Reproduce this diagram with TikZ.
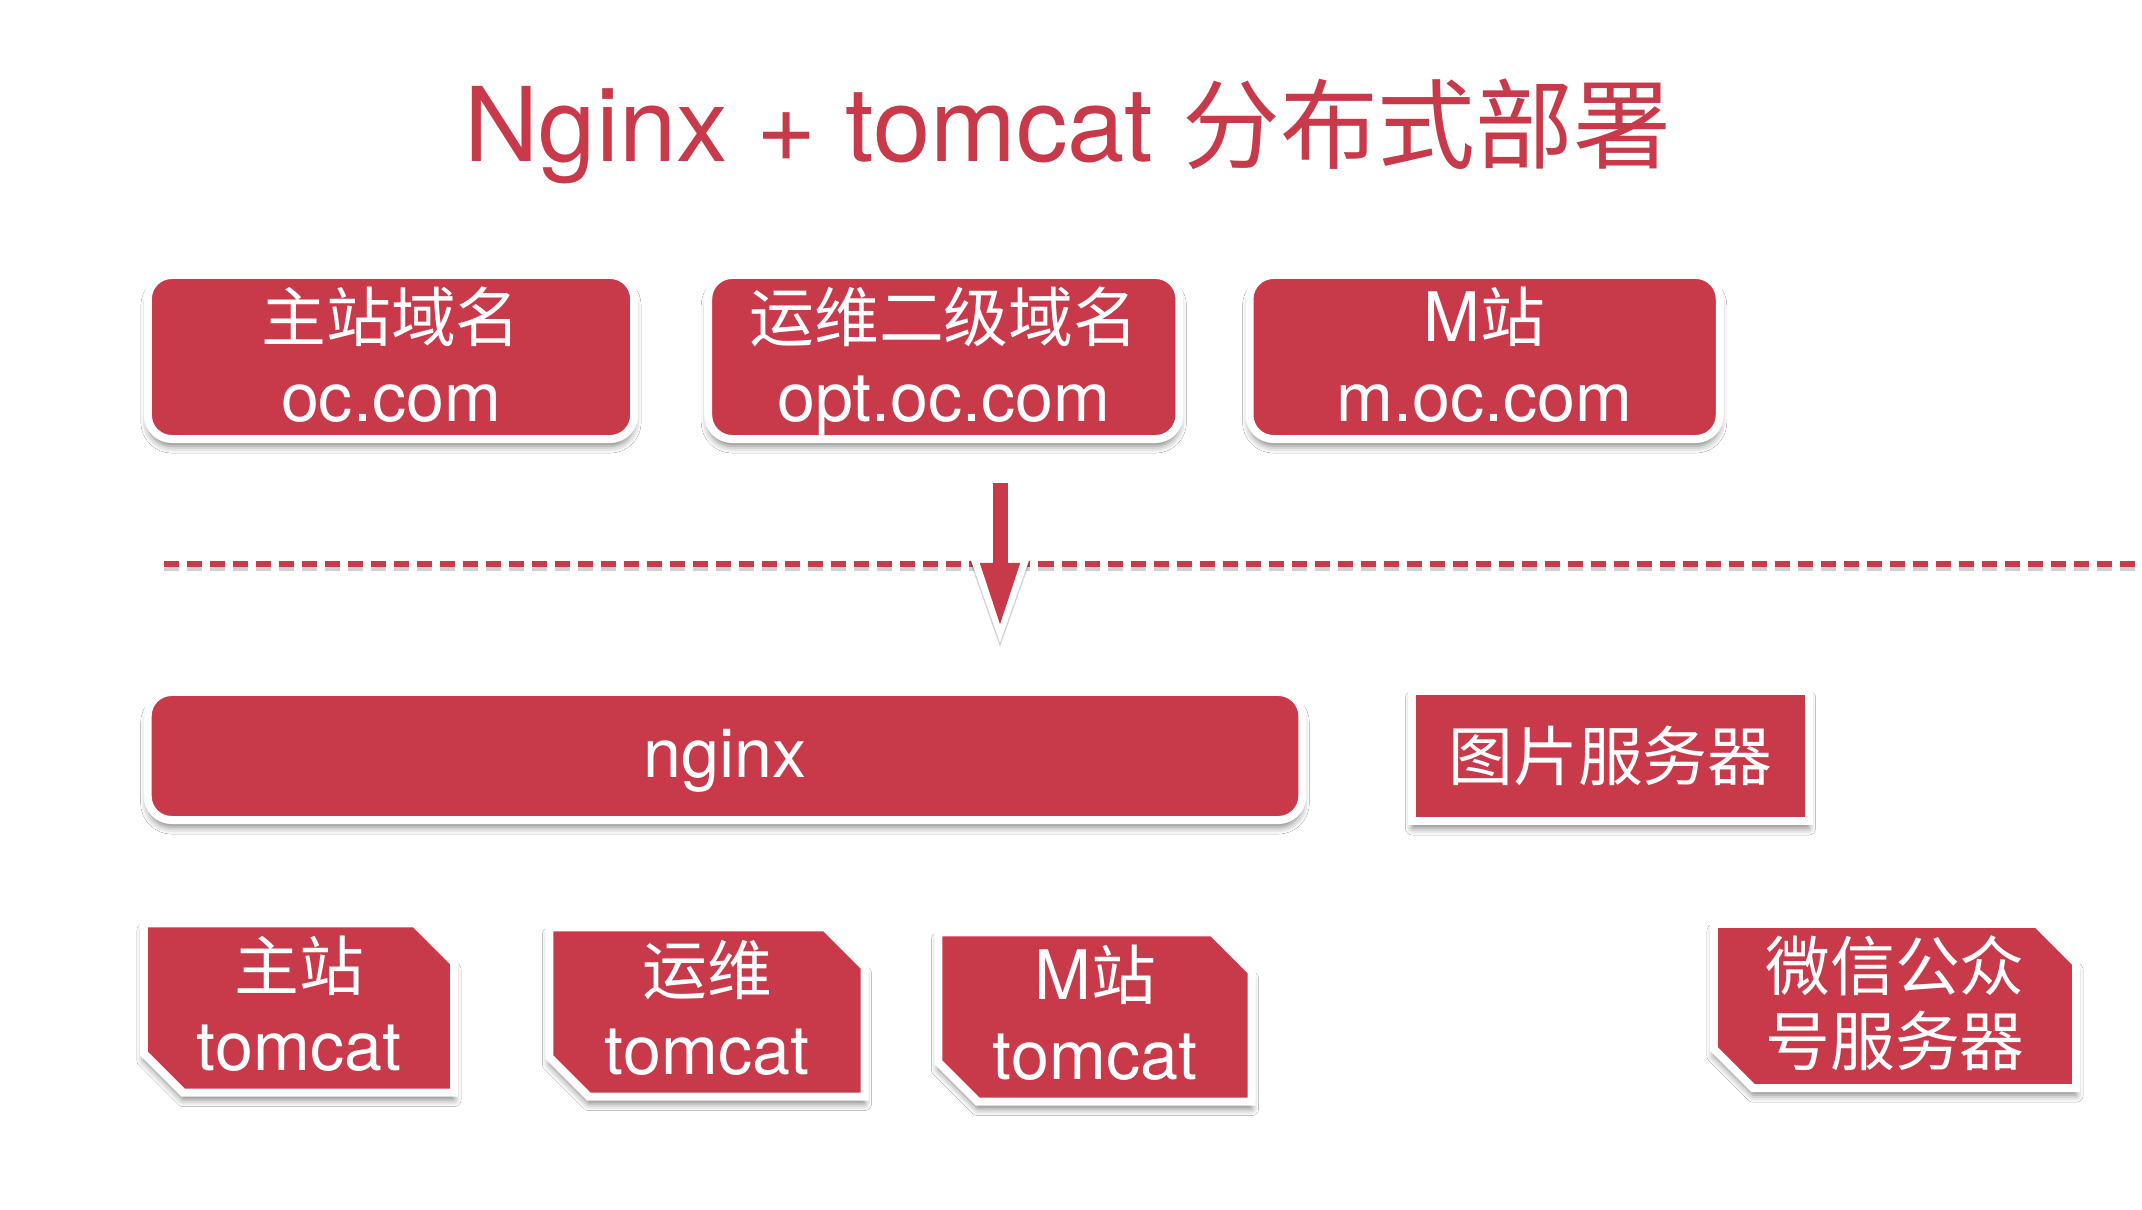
\documentclass[tikz,border=0pt]{standalone}
\usepackage{fontspec}
\setmainfont{TeX Gyre Heros}
\newfontfamily\cjk[Scale=0.95]{Noto Sans CJK SC}
\usepackage{xcolor}
\usepackage{tikz}
\usetikzlibrary{arrows.meta,positioning,shapes.misc,shadows.blur}
\definecolor{ocred}{RGB}{200,57,74}

\begin{document}
\begin{tikzpicture}[
  x=0.01cm, y=0.01cm,
  every node/.style={font=\fontsize{19.4pt}{22.8pt}\selectfont, text=white,
    align=center, inner sep=0pt, outer sep=0pt},
  boxshadow/.style={blur shadow={shadow xshift=0pt, shadow yshift=-0.07cm,
    shadow blur radius=0.07cm, shadow opacity=50}},
  dombox/.style={draw=white, line width=0.08cm, fill=ocred, text depth=0.06cm,
    rounded corners=0.24cm, minimum height=1.64cm, boxshadow},
  srvbox/.style={draw=white, line width=0.08cm, fill=ocred,
    minimum height=1.3cm, boxshadow},
  tcbox/.style={chamfered rectangle, chamfered rectangle xsep=0.27cm,
    chamfered rectangle corners={north east, south west}, text depth=0.1cm,
    draw=white, line width=0.08cm, fill=ocred, minimum height=1.60cm, boxshadow},
  sepline/.style={ocred, line width=0.06cm, dash pattern=on 0.15cm off 0.08cm},
  lineshadow/.style={black, opacity=0.18, transform canvas={yshift=-0.04cm}},
]
\fill[white] (0,0) rectangle (2142,-1210);
\useasboundingbox (0,0) rectangle (2142,-1210);

\node[anchor=base, text=ocred, font=\fontsize{29.3pt}{32pt}\selectfont] (title) at (1068,-162)
  {Nginx + tomcat {\cjk 分布式部署}};

% domains
\node[dombox, minimum width=4.86cm] (dmain) at (391,-357) {{\cjk 主站域名}\\oc.com};
\node[dombox, minimum width=4.71cm, right=0.74cm of dmain] (dopt) {{\cjk 运维二级域名}\\opt.oc.com};
\node[dombox, minimum width=4.70cm, right=0.70cm of dopt] (dm) {M{\cjk 站}\\m.oc.com};

% separator and request arrow
\coordinate (sepL) at (164,-564);
\coordinate (sepR) at (2142,-564);
\draw[sepline, lineshadow] (sepL) -- (sepR);
\draw[sepline] (sepL) -- (sepR);

\coordinate (arrtop) at (1000,-483);
\coordinate (arrtip) at (1000,-630);
\draw[lineshadow, line width=0.27cm, shorten <=-0.06cm, shorten >=-0.23cm,
  -{Triangle[length=0.97cm, width=0.52cm]}] (arrtop) -- (arrtip);
\draw[white, line width=0.27cm, shorten <=-0.06cm, shorten >=-0.23cm,
  -{Triangle[length=0.97cm, width=0.52cm]}] (arrtop) -- (arrtip);
\draw[ocred, line width=0.15cm, -{Triangle[length=0.67cm, width=0.35cm]}] (arrtop) -- (arrtip);

% proxy layer
\node[dombox, minimum width=11.54cm, minimum height=1.28cm] (nginx) at (725,-756) {nginx};
\node[srvbox, minimum width=3.96cm, right=1.10cm of nginx] (img) {{\cjk 图片服务器}};

% app servers
\node[tcbox, minimum height=1.56cm, minimum width=3.10cm] (tmain) at (299,-1008) {{\cjk 主站}\\tomcat};
\node[tcbox, minimum width=3.15cm] (topt) at (707,-1012) {{\cjk 运维}\\tomcat};
\node[tcbox, minimum width=3.13cm] (tm) at (1095,-1017) {M{\cjk 站}\\tomcat};
\node[tcbox, minimum width=3.62cm, font=\fontsize{19.4pt}{21.3pt}\selectfont] (wx) at (1895,-1006)
  {{\cjk 微信公众}\\{\cjk 号服务器}};
\end{tikzpicture}
\end{document}
